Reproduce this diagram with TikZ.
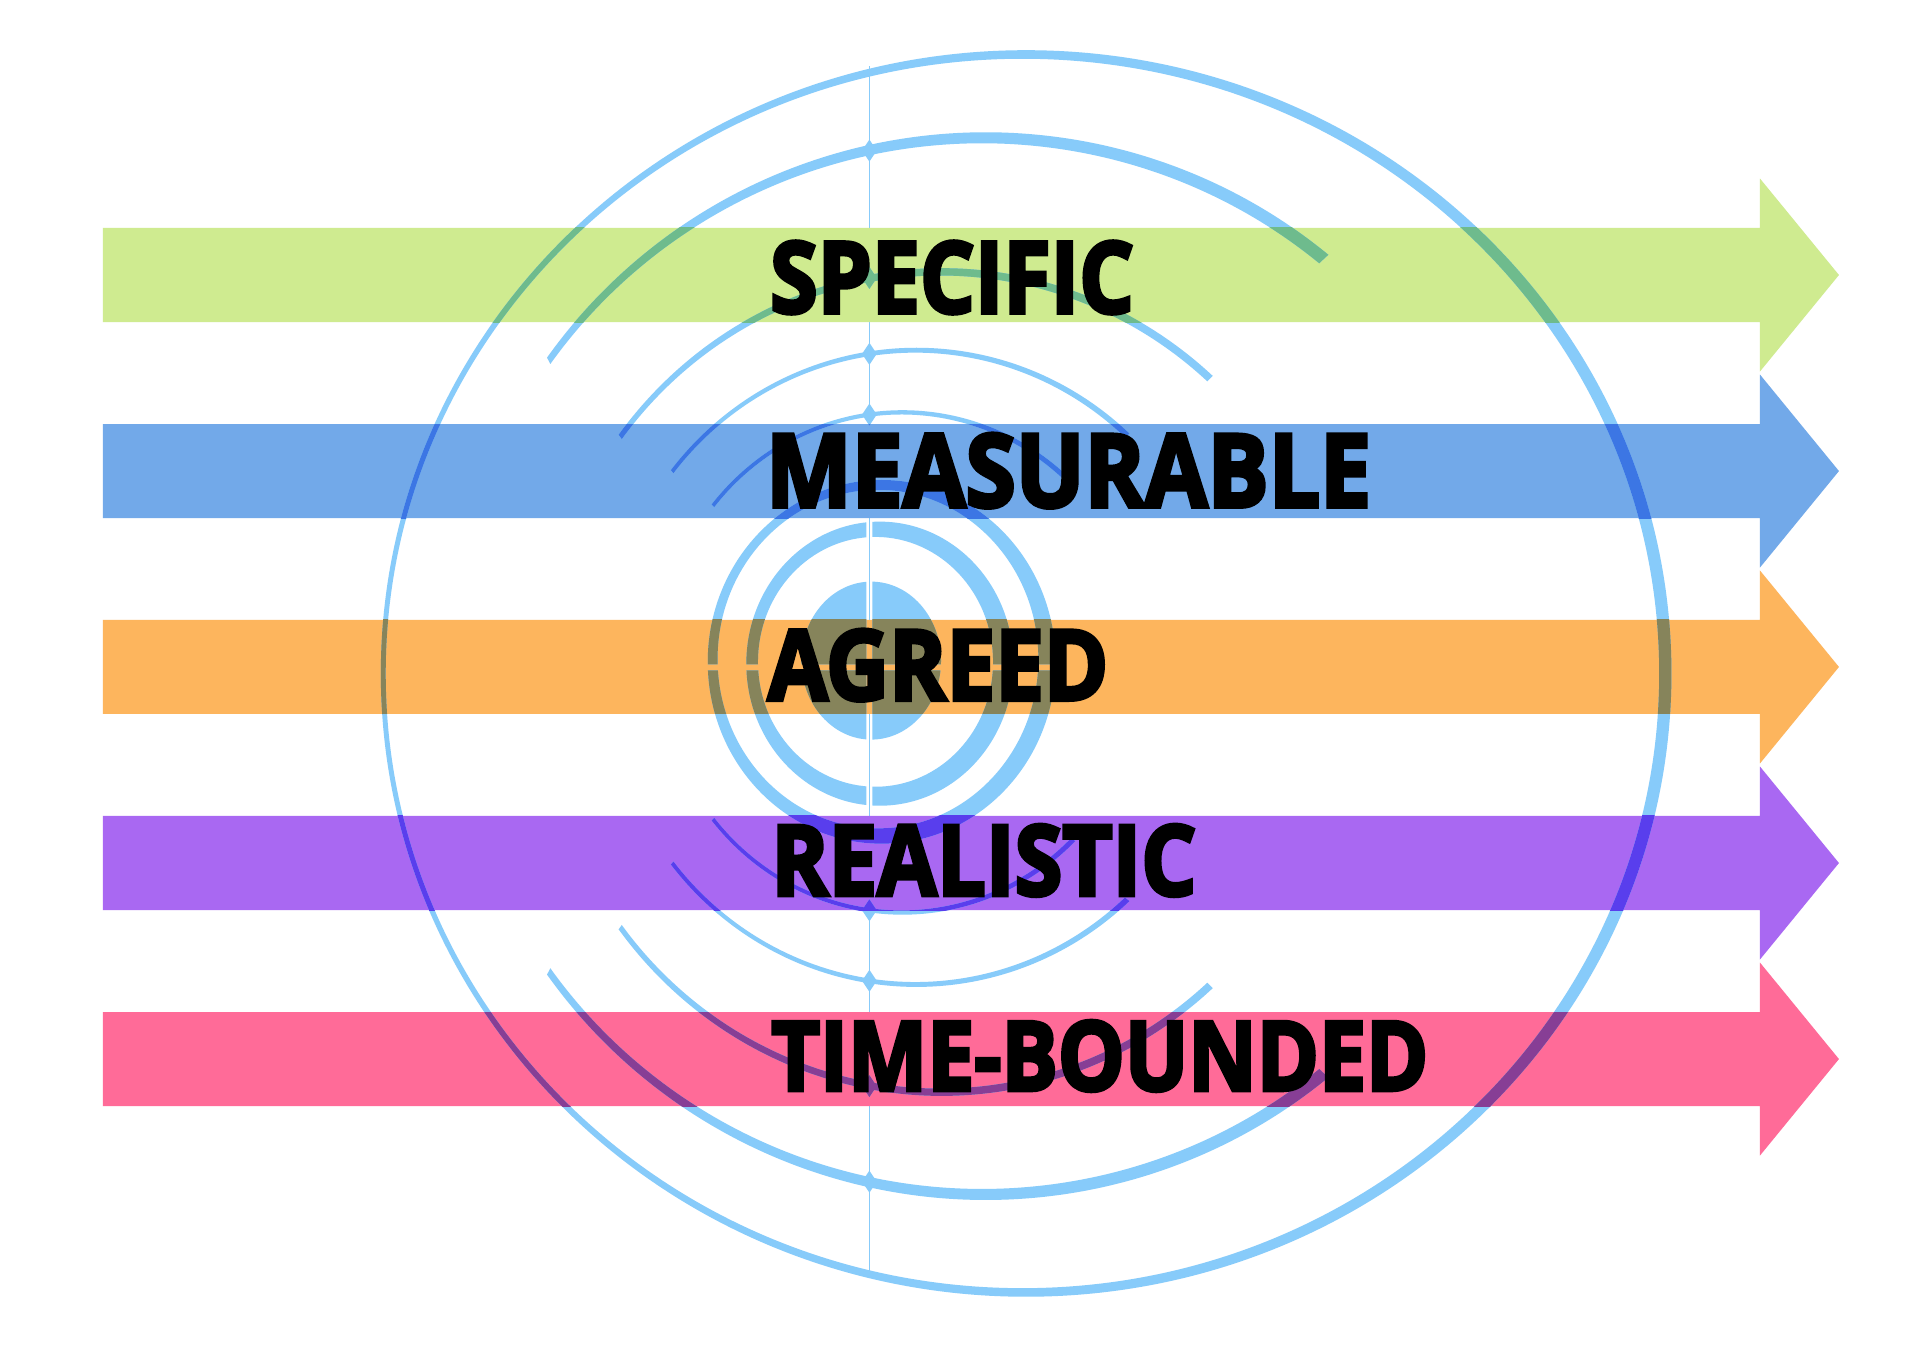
\documentclass[tikz,border=0pt]{standalone}
\usepackage{fontspec}
\usepackage{graphicx}
\usetikzlibrary{calc}
\newfontfamily\labelfont{Open Sans}[BoldFeatures={FakeBold=4}]
\definecolor{ringc}{RGB}{135,203,250}
\definecolor{gbar}{RGB}{207,235,144}
\definecolor{bbar}{RGB}{114,169,233}
\definecolor{obar}{RGB}{253,181,93}
\definecolor{pbar}{RGB}{169,104,242}
\definecolor{kbar}{RGB}{255,107,152}
\definecolor{gmix}{RGB}{110,187,141}
\definecolor{bmix}{RGB}{60,118,228}
\definecolor{omix}{RGB}{134,132,91}
\definecolor{pmix}{RGB}{89,62,237}
\definecolor{kmix}{RGB}{135,62,149}
\newcommand\ringpart[8]{%
  \fill[cur] ($(#1)+(#7:#2 and #3)$) arc[start angle=#7,end angle=#8,x radius=#2,y radius=#3]
    -- ($(#4)+(#8:#5 and #6)$) arc[start angle=#8,end angle=#7,x radius=#5,y radius=#6] -- cycle;}
\newcommand\dmd[1]{\fill[cur] (710,#1+9) -- (716,#1) -- (710,#1-9) -- (704,#1) -- cycle;}
\newcommand\drawrings[1]{%
  \colorlet{cur}{#1}%
  \fill[cur,even odd rule] (838,551) ellipse [x radius=527,y radius=509] (835,551) ellipse [x radius=520,y radius=502];
  \ringpart{805,557}{439}{436}{802,557}{432}{427}{50.4}{144.7}
  \ringpart{805,557}{439}{436}{802,557}{432}{427}{215.3}{309.6}
  \ringpart{769,544}{329}{338}{767.75,544}{324.25}{332}{47.7}{143.3}
  \ringpart{769,544}{329}{338}{767.75,544}{324.25}{332}{216.7}{312.3}
  \ringpart{748.5,556}{255}{261}{747.5,556}{251}{257}{47}{141.9}
  \ringpart{748.5,556}{255}{261}{747.5,556}{251}{257}{218.1}{313}
  \ringpart{737,560}{200}{206}{736.25,560}{196.25}{202.5}{45.1}{141.2}
  \ringpart{737,560}{200}{206}{736.25,560}{196.25}{202.5}{218.8}{314.9}
  \dmd{978}\dmd{136}\dmd{874}\dmd{214}\dmd{812}\dmd{300}\dmd{762.4}\dmd{357.6}
  \begin{scope}
    \clip (0,558.5) rectangle (1568,1101) (0,0) rectangle (1568,553.5);
    \fill[cur,even odd rule] (720,560.5) ellipse [x radius=142,y radius=148.5] (717,562.75) ellipse [x radius=131,y radius=138.25];
  \end{scope}
  \begin{scope}
    \clip (0,558.5) rectangle (707.5,1101) (712.5,558.5) rectangle (1568,1101) (0,0) rectangle (707.5,553.5) (712.5,0) rectangle (1568,553.5);
    \fill[cur,even odd rule] (718.5,559) ellipse [x radius=109,y radius=116] (715,560.5) ellipse [x radius=96,y radius=102];
    \fill[cur] (711.5,561.5) ellipse [x radius=57,y radius=64.5];
  \end{scope}
}
\newcommand\bararrow[2]{%
  \fill[#2] (84,#1+38.4) -- (1437.3,#1+38.4) -- (1437.3,#1+78.8) -- (1501.8,#1)
    -- (1437.3,#1-78.8) -- (1437.3,#1-38.4) -- (84,#1-38.4) -- cycle;}
\newcommand\barmix[2]{%
  \begin{scope}
    \clip (84,#1-38.4) rectangle (1437.3,#1+38.4);
    \drawrings{#2}
  \end{scope}}
\tikzset{lbl/.style={inner sep=0pt, outer sep=0pt, anchor=base west, text=black, font=\labelfont\bfseries}}
\begin{document}
\begin{tikzpicture}[x=1pt,y=1pt]
\useasboundingbox (0,0) rectangle (1568,1101);
\fill[white] (0,0) rectangle (1568,1101);
\coordinate (axtop) at (710,1047);
\coordinate (axbot) at (710,58);
\draw[ringc, line width=1.3] (axtop) -- (axbot);
\bararrow{876.4}{gbar}
\bararrow{716.3}{bbar}
\bararrow{556.3}{obar}
\bararrow{396.2}{pbar}
\bararrow{236.1}{kbar}
\drawrings{ringc}
\barmix{876.4}{gmix}
\barmix{716.3}{bmix}
\barmix{556.3}{omix}
\barmix{396.2}{pmix}
\barmix{236.1}{kmix}
\node[lbl] (specific) at (629,845.5) {\resizebox{297pt}{58.5pt}{SPECIFIC}};
\node[lbl] (measurable) at (625.5,687) {\resizebox{494pt}{60pt}{MEASURABLE}};
\node[lbl] (agreed) at (627,529.3) {\resizebox{278pt}{57.7pt}{AGREED}};
\node[lbl] (realistic) at (630,369.8) {\resizebox{347pt}{57.8pt}{REALISTIC}};
\node[lbl] (timebounded) at (630,210.5) {\resizebox{536pt}{57pt}{TIME-BOUNDED}};
\end{tikzpicture}
\end{document}
